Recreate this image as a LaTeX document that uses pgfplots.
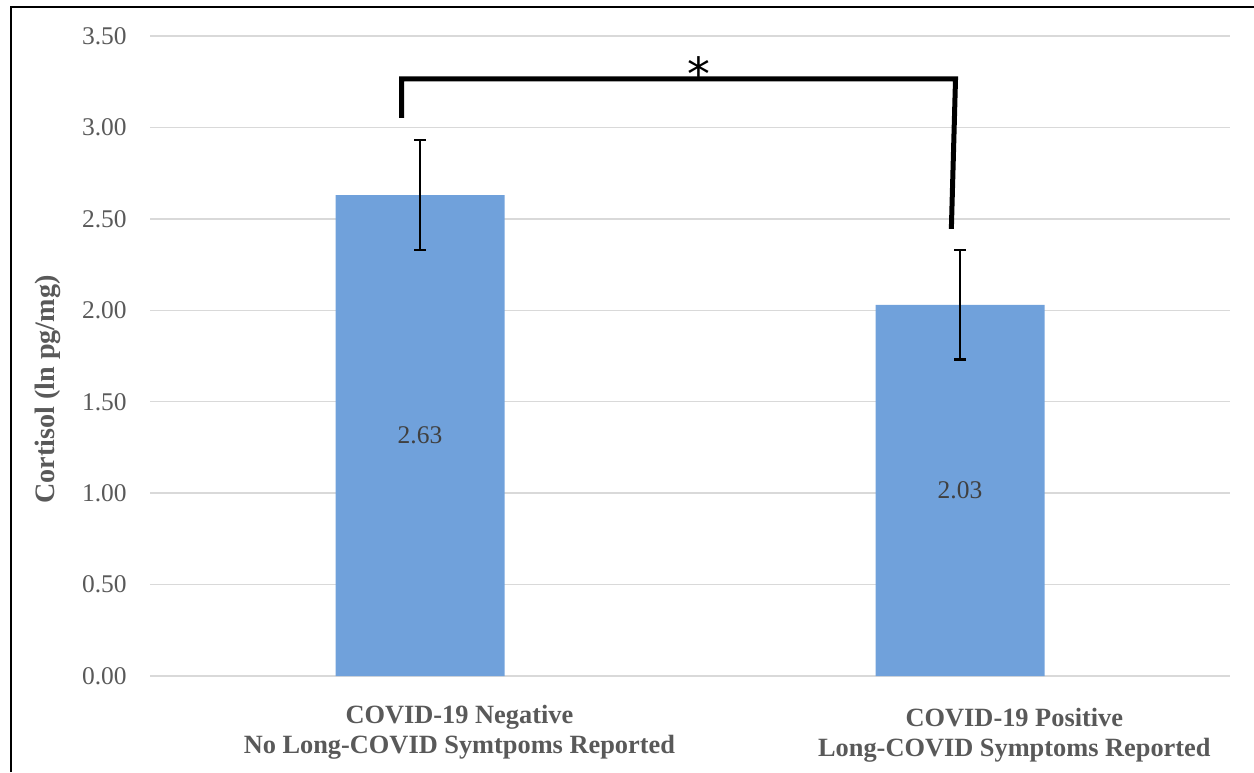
\documentclass[border=0pt]{standalone}
\usepackage{fontspec}
\setmainfont{Liberation Serif}
\newfontfamily\sansast{DejaVu Sans}
\usepackage{pgfplots}
\pgfplotsset{compat=1.18}
\definecolor{barblue}{RGB}{112,161,219}
\definecolor{gridgray}{RGB}{217,217,217}
\definecolor{tickgray}{RGB}{89,89,89}
\definecolor{lblgray}{RGB}{64,64,64}
\begin{document}
\begin{tikzpicture}
\path[use as bounding box] (0,0) rectangle (25.08,15.44);
\draw[black, line width=0.05cm] (0.22,0) -- (0.22,15.30) -- (25.08,15.30);
\begin{axis}[
  at={(3.0cm,1.92cm)}, anchor=south west,
  width=21.6cm, height=12.8cm, scale only axis,
  xmin=-0.5, xmax=1.5, ymin=0, ymax=3.5,
  ytick={0,0.5,1,1.5,2,2.5,3,3.5},
  xtick=\empty,
  /pgf/number format/assume math mode=true,
  yticklabel={\pgfmathprintnumber[fixed,fixed zerofill,precision=2]{\tick}},
  yticklabel style={font=\fontsize{14.5}{16}\selectfont, text=tickgray, inner sep=0pt, anchor=east, xshift=-0.46cm},
  ymajorgrids, grid style={gridgray, line width=0.03cm},
  axis line style={draw=none}, major tick length=0,
  clip=false,
  ylabel={Cortisol (ln pg/mg)},
  ylabel style={font=\bfseries\fontsize{16}{18}\selectfont, text=tickgray, at={(axis description cs:-0.0944,0.4477)}, anchor=center},
]
\addplot[ybar, bar width=3.38cm, fill=barblue, draw=none,
  error bars/.cd, y dir=both, y explicit, error mark=|,
  error bar style={black, line width=0.05cm},
  error mark options={black, line width=0.05cm, mark size=0.12cm}]
  coordinates {(0,2.63) +- (0,0.30) (1,2.03) +- (0,0.30)};
\addplot[sharp plot, black, line width=0.1cm, no markers, line join=miter, line cap=butt]
  coordinates {(-0.034,3.052) (-0.034,3.265) (0.9917,3.265) (0.984,2.445)};
\node[font=\sansast\fontsize{26}{26}\selectfont, anchor=base] at (axis cs:0.5166,3.20) {*};
\node[font=\fontsize{14.5}{16}\selectfont, text=lblgray] at (axis cs:0,1.315) {2.63};
\node[font=\fontsize{14.5}{16}\selectfont, text=lblgray] at (axis cs:1,1.015) {2.03};
\node[align=center, font=\bfseries\fontsize{15}{17}\selectfont, text=tickgray] at (axis cs:0.073,-0.306) {COVID-19 Negative\\No Long-COVID Symtpoms Reported};
\node[align=center, font=\bfseries\fontsize{15}{17}\selectfont, text=tickgray] at (axis cs:1.1007,-0.323) {COVID-19 Positive\\Long-COVID Symptoms Reported};
\end{axis}
\end{tikzpicture}
\end{document}
